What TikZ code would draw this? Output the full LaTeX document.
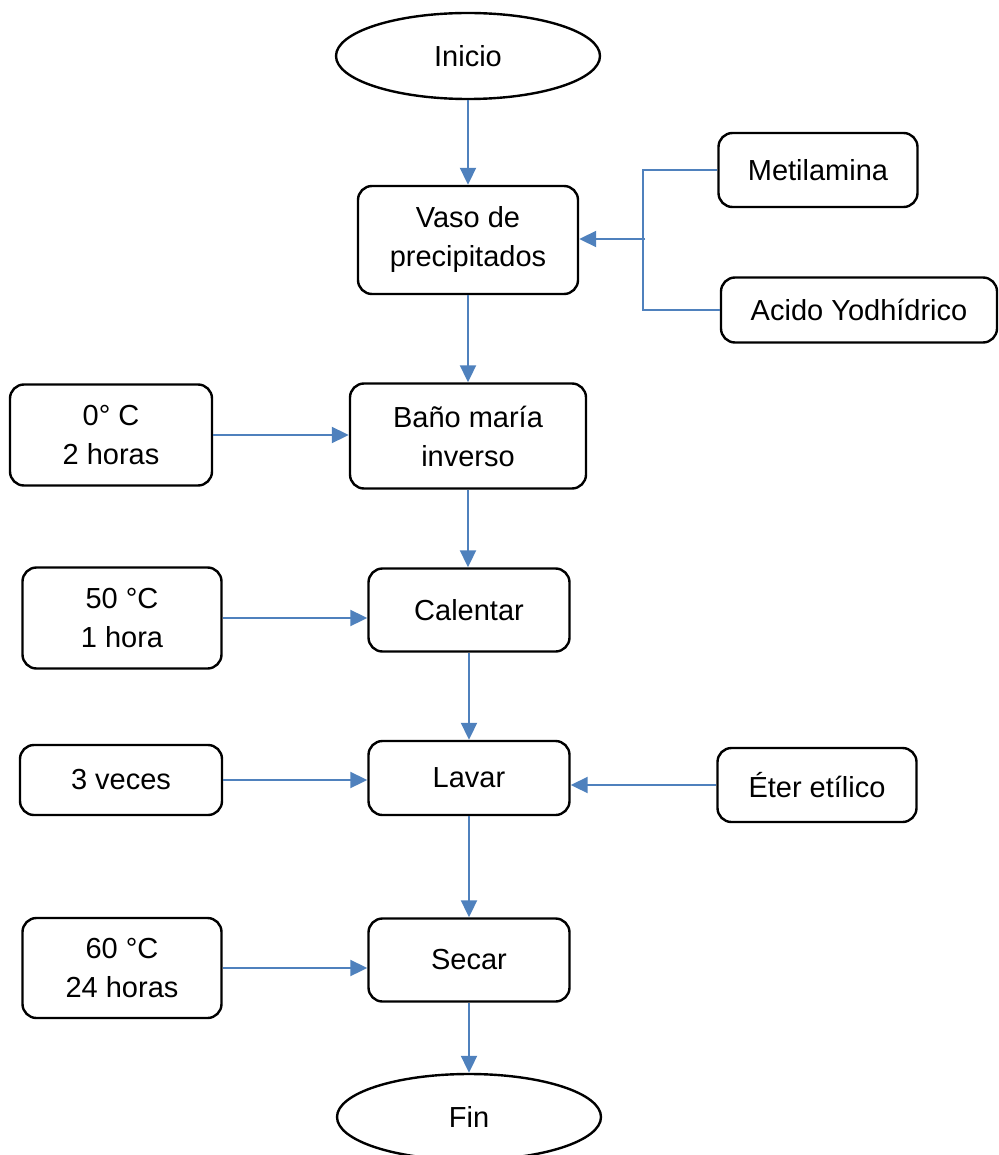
\documentclass[tikz,border=0pt]{standalone}
\usepackage{fontspec}
\setmainfont{Liberation Sans}
\usetikzlibrary{arrows.meta,shapes.geometric}
\definecolor{fblue}{RGB}{79,129,189}
\tikzset{bx/.append style={draw,line width=2.4pt,rounded corners=14pt,inner sep=0pt,align=center}}
\tikzset{el/.append style={draw,ellipse,line width=2.4pt,inner sep=0pt,minimum width=264pt,minimum height=86pt}}
\tikzset{ar/.append style={draw=fblue,line width=2pt,-{Triangle[length=17pt,width=16pt]}}}
\tikzset{ln/.append style={draw=fblue,line width=1.6pt}}

\begin{document}
\begin{tikzpicture}[x=1pt,y=-1pt,font=\fontsize{29}{39}\selectfont]
                % \SetUpVertex
                \useasboundingbox (0,0) rectangle (998,1155);
                \node[el] (ini) at (468,56) {Inicio};
                \node[bx,minimum width=220pt,minimum height=108pt] (vaso) at (468,240) {Vaso de\\precipitados};
                \node[bx,minimum width=199pt,minimum height=74pt] (meti) at (818,170) {Metilamina};
                \node[bx,minimum width=276pt,minimum height=65pt] (acid) at (859,310) {Acido Yodhídrico};
                \node[bx,minimum width=202pt,minimum height=101pt] (t0) at (111,435) {0° C\\2 horas};
                \node[bx,minimum width=236pt,minimum height=105pt] (bano) at (468,436) {Baño maría\\inverso};
                \node[bx,minimum width=199pt,minimum height=101pt] (t50) at (122,618) {50 °C\\1 hora};
                \node[bx,minimum width=201pt,minimum height=83pt] (cal) at (469,610) {Calentar};
                \node[bx,minimum width=202pt,minimum height=70pt] (ves) at (121,780) {3 veces};
                \node[bx,minimum width=201pt,minimum height=74pt] (lav) at (469,778) {Lavar};
                \node[bx,minimum width=199pt,minimum height=74pt] (eter) at (817,785) {Éter etílico};
                \node[bx,minimum width=199pt,minimum height=100pt] (t60) at (122,968) {60 °C\\24 horas};
                \node[bx,minimum width=201pt,minimum height=83pt] (sec) at (469,960) {Secar};
                \node[el] (fin) at (469,1117) {Fin};
                \coordinate (jn) at (643,239);
                \path[ar] (ini.south) -- (ini.south |- vaso.north);
                \path[ar] (vaso.south) -- (vaso.south |- bano.north);
                \path[ar] (bano.south) -- (bano.south |- cal.north);
                \path[ar] (cal.south) -- (cal.south |- lav.north);
                \path[ar] (lav.south) -- (lav.south |- sec.north);
                \path[ar] (sec.south) -- (sec.south |- fin.north);
                \path[ln] (meti.west) -- (meti.west -| jn) -- (acid.west -| jn) -- (acid.west);
                \path[ar] ([xshift=2pt]jn) -- (jn -| vaso.east);
                \path[ar] (t0.east) -- (t0.east -| bano.west);
                \path[ar] (t50.east) -- (t50.east -| cal.west);
                \path[ar] (ves.east) -- (ves.east -| lav.west);
                \path[ar] (eter.west) -- (eter.west -| lav.east);
                \path[ar] (t60.east) -- (t60.east -| sec.west);
            \end{tikzpicture}
\end{document}
